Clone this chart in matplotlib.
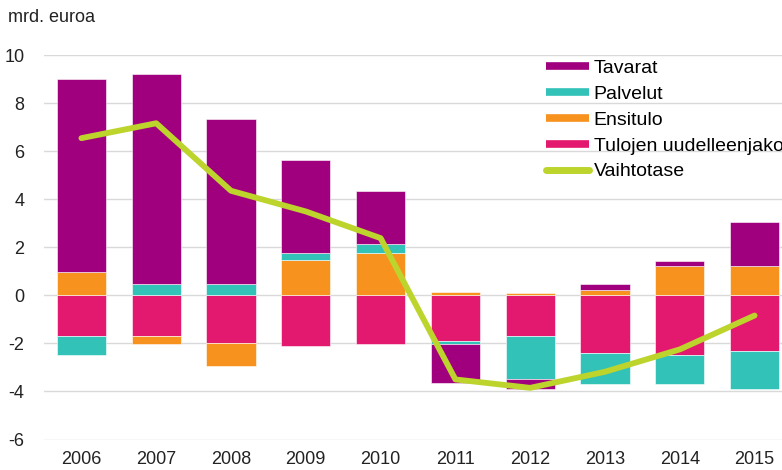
import matplotlib

matplotlib.use("Agg")
import matplotlib.pyplot as plt
from matplotlib.lines import Line2D
import numpy as np

plt.rcParams["font.family"] = ["Liberation Sans", "DejaVu Sans"]
plt.rcParams["axes.unicode_minus"] = False

years = ["2006", "2007", "2008", "2009", "2010", "2011", "2012", "2013", "2014", "2015"]
tavarat = [8.04, 8.70, 6.85, 3.86, 2.20, -1.62, -0.39, 0.28, 0.22, 1.86]
palvelut = [-0.80, 0.49, 0.49, 0.28, 0.39, -0.11, -1.80, -1.29, -1.18, -1.56]
ensitulo = [0.95, -0.32, -0.97, 1.48, 1.76, 0.14, 0.08, 0.21, 1.21, 1.21]
uudelleenjako = [-1.70, -1.70, -1.98, -2.09, -2.02, -1.91, -1.70, -2.39, -2.50, -2.33]
vaihtotase = [6.54, 7.16, 4.35, 3.49, 2.38, -3.50, -3.85, -3.18, -2.25, -0.84]

# stacking order from the zero line outwards
series = [
    ("Tulojen uudelleenjako", uudelleenjako, "#e3186f"),
    ("Ensitulo", ensitulo, "#f7921e"),
    ("Palvelut", palvelut, "#33c2b8"),
    ("Tavarat", tavarat, "#a0007d"),
]
line_color = "#bcd42c"

W, H = 782, 470
fig = plt.figure(figsize=(W / 100, H / 100), dpi=100)
ax = fig.add_axes([44 / W, 30 / H, (W - 44) / W, 385 / H])

x = np.arange(len(years))
pos_base = np.zeros(len(years))
neg_base = np.zeros(len(years))
for name, values, color in series:
    vals = np.array(values)
    bottom = np.where(vals >= 0, pos_base, neg_base)
    ax.bar(x, vals, 0.66, bottom=bottom, color=color, edgecolor="white", linewidth=0.4, zorder=2)
    pos_base += np.where(vals >= 0, vals, 0)
    neg_base += np.where(vals < 0, vals, 0)

ax.plot(x, vaihtotase, color=line_color, linewidth=4.2, solid_capstyle="round",
        solid_joinstyle="round", zorder=3)

ax.set_xlim(-0.5, 9.5 - 10 / 74.7)
ax.set_ylim(-6.02, 10)
ax.set_yticks(range(-6, 11, 2))
ax.set_xticks(x)
ax.set_xticklabels(years)
ax.tick_params(axis="both", length=0, labelsize=13, colors="#222222")
ax.tick_params(axis="y", pad=14)
ax.tick_params(axis="x", pad=8)
ax.grid(axis="y", color="#d9d9d9", linewidth=1.0, zorder=0)
ax.set_axisbelow(True)
for spine in ax.spines.values():
    spine.set_visible(False)

fig.text(8 / W, 1 - 18 / H, "mrd. euroa", fontsize=13, color="#222222", va="center", ha="left")

handles = [Line2D([], [], color=c, linewidth=5.5, solid_capstyle="butt") for _, _, c in reversed(series)]
handles.append(Line2D([], [], color=line_color, linewidth=5, solid_capstyle="round"))
labels = [name for name, _, _ in reversed(series)] + ["Vaihtotase"]
fig.legend(handles, labels, loc="upper left", bbox_to_anchor=(546 / W, 1 - 59 / H),
           frameon=False, fontsize=14, handlelength=2.2, handletextpad=0.25,
           labelspacing=0.43, borderpad=0, borderaxespad=0)

fig.savefig("out.png", dpi=100)
